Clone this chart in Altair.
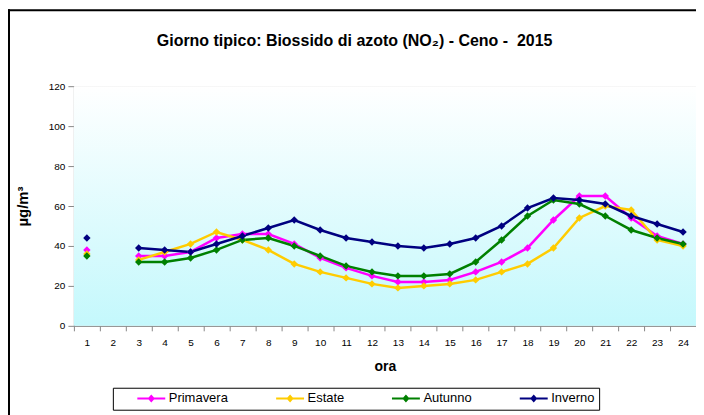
import altair as alt
import pandas as pd

hours = list(range(1, 25))
seasons = ["Primavera", "Estate", "Autunno", "Inverno"]
colors = ["#FF00FF", "#FFCC00", "#008000", "#000080"]

primavera = [38, None, 35, 35, 37, 44, 46, 46, 41, 34, 29, 25, 22, 22, 23, 27, 32, 39, 53, 65, 65, 54, 45, 41]
estate = [36, None, 33, 37, 41, 47, 43, 38, 31, 27, 24, 21, 19, 20, 21, 23, 27, 31, 39, 54, 60, 58, 43, 40]
autunno = [35, None, 32, 32, 34, 38, 43, 44, 40, 35, 30, 27, 25, 25, 26, 32, 43, 55, 63, 61, 55, 48, 44, 41]
inverno = [44, None, 39, 38, 37, 41, 45, 49, 53, 48, 44, 42, 40, 39, 41, 44, 50, 59, 64, 63, 61, 55, 51, 47]

series = {"Primavera": primavera, "Estate": estate, "Autunno": autunno, "Inverno": inverno}
rows = []
for s in seasons:
    for h, v in zip(hours, series[s]):
        if v is not None:
            rows.append({"ora": h, "val": v, "stagione": s, "seg": 0 if h == 1 else 1})
df = pd.DataFrame(rows)

W, H = 623, 240
FONT = "Liberation Sans"

xenc = alt.X("ora:O", title="ora",
             scale=alt.Scale(domain=hours, paddingInner=0, paddingOuter=0),
             axis=alt.Axis(labelAngle=0, tickBand="extent", tickSize=5, labelPadding=7,
                           titlePadding=12, titleFontSize=14, grid=False))
yenc = alt.Y("val:Q", title="µg/m³",
             scale=alt.Scale(domain=[0, 120], nice=False),
             axis=alt.Axis(values=[0, 20, 40, 60, 80, 100, 120], tickSize=6, labelPadding=3,
                           grid=True, titlePadding=18, titleFontSize=15))

# legend symbol: invisible anchor point at the left, then line with diamond marker
legend_path = ("M-5.67,0L-5.67,0.001 "
               "M-2.33,-0.17H2.33V0.17H-2.33Z M-0.6,0L0,-0.67L0.6,0L0,0.67Z")

one = pd.DataFrame({"a": [0]})

background = alt.Chart(one).mark_rect(
    color=alt.LinearGradient(gradient="linear", x1=0, y1=0, x2=0, y2=1,
                             stops=[alt.GradientStop(color="#FFFFFF", offset=0),
                                    alt.GradientStop(color="#C4F8FC", offset=1)])
).encode(x=alt.value(0), x2=alt.value(W), y=alt.value(0), y2=alt.value(H))

lines = alt.Chart(df).mark_line(strokeWidth=2.5).encode(
    x=xenc, y=yenc, detail="seg:N",
    color=alt.Color("stagione:N", scale=alt.Scale(domain=seasons, range=colors), legend=None),
)
points = alt.Chart(df).mark_point(shape="diamond", filled=True, size=55, opacity=1).encode(
    x=xenc, y=yenc,
    color=alt.Color("stagione:N", scale=alt.Scale(domain=seasons, range=colors),
                    legend=alt.Legend(title=None, orient="none", legendX=39, legendY=302,
                                      direction="horizontal", columns=4,
                                      symbolType=legend_path, symbolSize=144,
                                      symbolOffset=28,
                                      symbolStrokeWidth=0, symbolOpacity=1,
                                      labelFontSize=13, labelFont=FONT, labelColor="black",
                                      labelOffset=11, columnPadding=27,
                                      padding=4, strokeColor="black", fillColor="white")),
)

frame_left = alt.Chart(one).mark_rule(stroke="black", strokeWidth=2).encode(
    x=alt.value(-65), y=alt.value(-77), y2=alt.value(420))
frame_top = alt.Chart(one).mark_rule(stroke="black", strokeWidth=2).encode(
    x=alt.value(-66), x2=alt.value(660), y=alt.value(-76))

chart = alt.layer(frame_left, frame_top, background, lines, points).resolve_legend(
    color="independent"
).properties(
    width=W, height=H,
    autosize=alt.AutoSizeParams(type="none"),
    padding={"left": 66, "top": 78, "right": 0, "bottom": 89},
    title=alt.TitleParams("Giorno tipico: Biossido di azoto (NO₂) - Ceno -\u00a0 2015",
                          anchor="start", frame="group", dx=83, offset=-41,
                          fontSize=16, font=FONT, fontWeight="bold", color="black"),
).configure_view(
    stroke="#808080", strokeWidth=1,
).configure_axis(
    labelFont=FONT, labelFontSize=11.5, labelColor="black",
    titleFont=FONT, titleFontWeight="bold", titleColor="black",
    domainColor="black", tickColor="black", gridColor="black", gridWidth=1,
).configure(background="white")

chart.save("out.html", embed_options={"renderer": "svg", "actions": False})
